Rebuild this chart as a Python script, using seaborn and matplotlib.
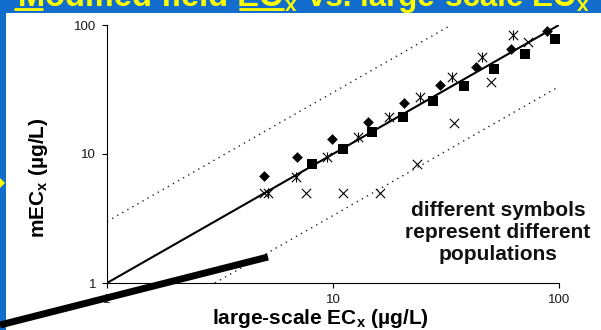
import matplotlib
matplotlib.use('Agg')
import matplotlib.pyplot as plt
import seaborn as sns
from matplotlib.lines import Line2D
from matplotlib.patches import Rectangle, Polygon

# values (large-scale ECx vs mECx, ug/L)
diamond_x = [4.95, 6.9, 9.9, 14.3, 20.6, 29.7, 42.9, 61.3, 88.5]
diamond_y = [6.75, 9.5, 13.1, 17.7, 24.9, 34.3, 47.2, 65.2, 89.8]
square_x = [8.07, 11.1, 14.9, 20.4, 27.7, 38.0, 51.6, 70.7, 96.0]
square_y = [8.36, 10.9, 14.8, 19.4, 25.8, 33.7, 45.6, 59.6, 77.9]
star_x = [5.16, 6.86, 9.4, 12.9, 17.7, 24.3, 33.6, 45.6, 62.5]
star_y = [4.98, 6.63, 9.48, 13.5, 19.4, 27.7, 39.5, 56.5, 83.6]
cross_x = [4.95, 7.6, 11.1, 16.1, 23.5, 34.3, 50.0, 72.9]
cross_y = [4.98, 4.98, 4.98, 4.98, 8.36, 17.4, 36.2, 73.8]

# 1:1 line and factor-of-3 bands
one_x = [1, 100]
one_y = [1, 100]
upper_x = [1, 100 / 3]
upper_y = [3, 100]
lower_x = [3, 100]
lower_y = [1, 100 / 3]

ticks = [1, 10, 100]
tick_labels = ['1', '10', '100']

sns.set_style('ticks')
plt.rcParams['font.family'] = ['Liberation Sans', 'DejaVu Sans']
plt.rcParams['mathtext.fontset'] = 'custom'
plt.rcParams['mathtext.rm'] = 'Liberation Sans'
plt.rcParams['mathtext.bf'] = 'Liberation Sans:bold'

W, H = 601, 330
BLUE = '#136dcc'
YEL = '#ffff00'

fig = plt.figure(figsize=(W / 100, H / 100), dpi=100, facecolor=BLUE)
# white slide panel
fig.add_artist(Rectangle((6 / W, 0), 1, (H - 13) / H, transform=fig.transFigure,
                         facecolor='white', edgecolor='none', zorder=-1))

ax = fig.add_axes([107 / W, 47 / H, 452 / W, 258 / H])
ax.set_facecolor('none')

ax.plot(one_x, one_y, color='black', lw=1.5, zorder=2)
ax.plot(upper_x, upper_y, color='#222222', lw=1, ls=(0, (1, 3.2)), zorder=2)
ax.plot(lower_x, lower_y, color='#222222', lw=1, ls=(0, (1, 3.2)), zorder=2)

sns.scatterplot(x=diamond_x, y=diamond_y, marker='D', s=30, color='black', linewidth=0, ax=ax, zorder=3)
sns.scatterplot(x=square_x, y=square_y, marker='s', s=48, color='black', linewidth=0, ax=ax, zorder=3)
sns.scatterplot(x=star_x, y=star_y, marker='x', s=45, color='black', linewidth=0.8, ax=ax, zorder=3)
sns.scatterplot(x=star_x, y=star_y, marker='|', s=45, color='black', linewidth=0.8, ax=ax, zorder=3)
sns.scatterplot(x=cross_x, y=cross_y, marker='x', s=45, color='black', linewidth=0.8, ax=ax, zorder=3)

ax.set_xscale('log')
ax.set_yscale('log')
ax.set_xlim(1, 100)
ax.set_ylim(1, 100)
ax.set_xticks(ticks, tick_labels)
ax.set_yticks(ticks, tick_labels)
ax.minorticks_off()
ax.tick_params(direction='out', length=3.6, width=0.8, labelsize=9.5,
               colors='black', labelcolor='#1a1a1a')
ax.tick_params(axis='y', pad=4.3)
ax.tick_params(axis='x', pad=4.5)
for side in ['top', 'right']:
    ax.spines[side].set_visible(False)
for side in ['left', 'bottom']:
    ax.spines[side].set_linewidth(0.8)
    ax.spines[side].set_color('black')

# axis labels
fig.text(320 / W, 1 - 318 / H, r'large-scale EC$_\mathbf{x}$ (µg/L)', ha='center', va='center',
         fontsize=15, weight='bold', color='black')
fig.text(38 / W, 1 - 178 / H, r'mEC$_\mathbf{x}$ (µg/L)', ha='center', va='center',
         rotation=90, fontsize=15, weight='bold', color='black')

fig.text(498 / W, 1 - 233 / H, 'different symbols\nrepresent different\npopulations',
         ha='center', va='center', multialignment='center', fontsize=15, weight='bold',
         color='#111111')

# slide title, mostly cut off at the top
fig.text(283 / W, 1 - 6 / H, 'Modified field EC', ha='right', va='baseline',
         fontsize=23.5, weight='bold', color=YEL)
fig.text(285 / W, 1 - 11 / H, 'x', ha='left', va='baseline', fontsize=15, weight='bold', color=YEL)
fig.text(575 / W, 1 - 6 / H, 'vs. large-scale EC', ha='right', va='baseline',
         fontsize=22.5, weight='bold', color=YEL)
fig.text(577 / W, 1 - 11 / H, 'x', ha='left', va='baseline', fontsize=15, weight='bold', color=YEL)
for x0, x1 in [(15, 42), (240, 283)]:
    fig.add_artist(Line2D([x0 / W, x1 / W], [1 - 8.5 / H, 1 - 8.5 / H], transform=fig.transFigure,
                          color=YEL, lw=2))

# thick connector line from the slide and the yellow arrow tip
fig.add_artist(Line2D([0, 268 / W], [1 - 325 / H, 1 - 257 / H], transform=fig.transFigure,
                      color='black', lw=5, solid_capstyle='butt', zorder=5))
fig.add_artist(Polygon([(0, 1 - 178 / H), (5 / W, 1 - 183 / H), (0, 1 - 188 / H)],
                       closed=True, transform=fig.transFigure, facecolor=YEL,
                       edgecolor='none', zorder=5))

fig.savefig('out.png', dpi=100, facecolor=BLUE)
